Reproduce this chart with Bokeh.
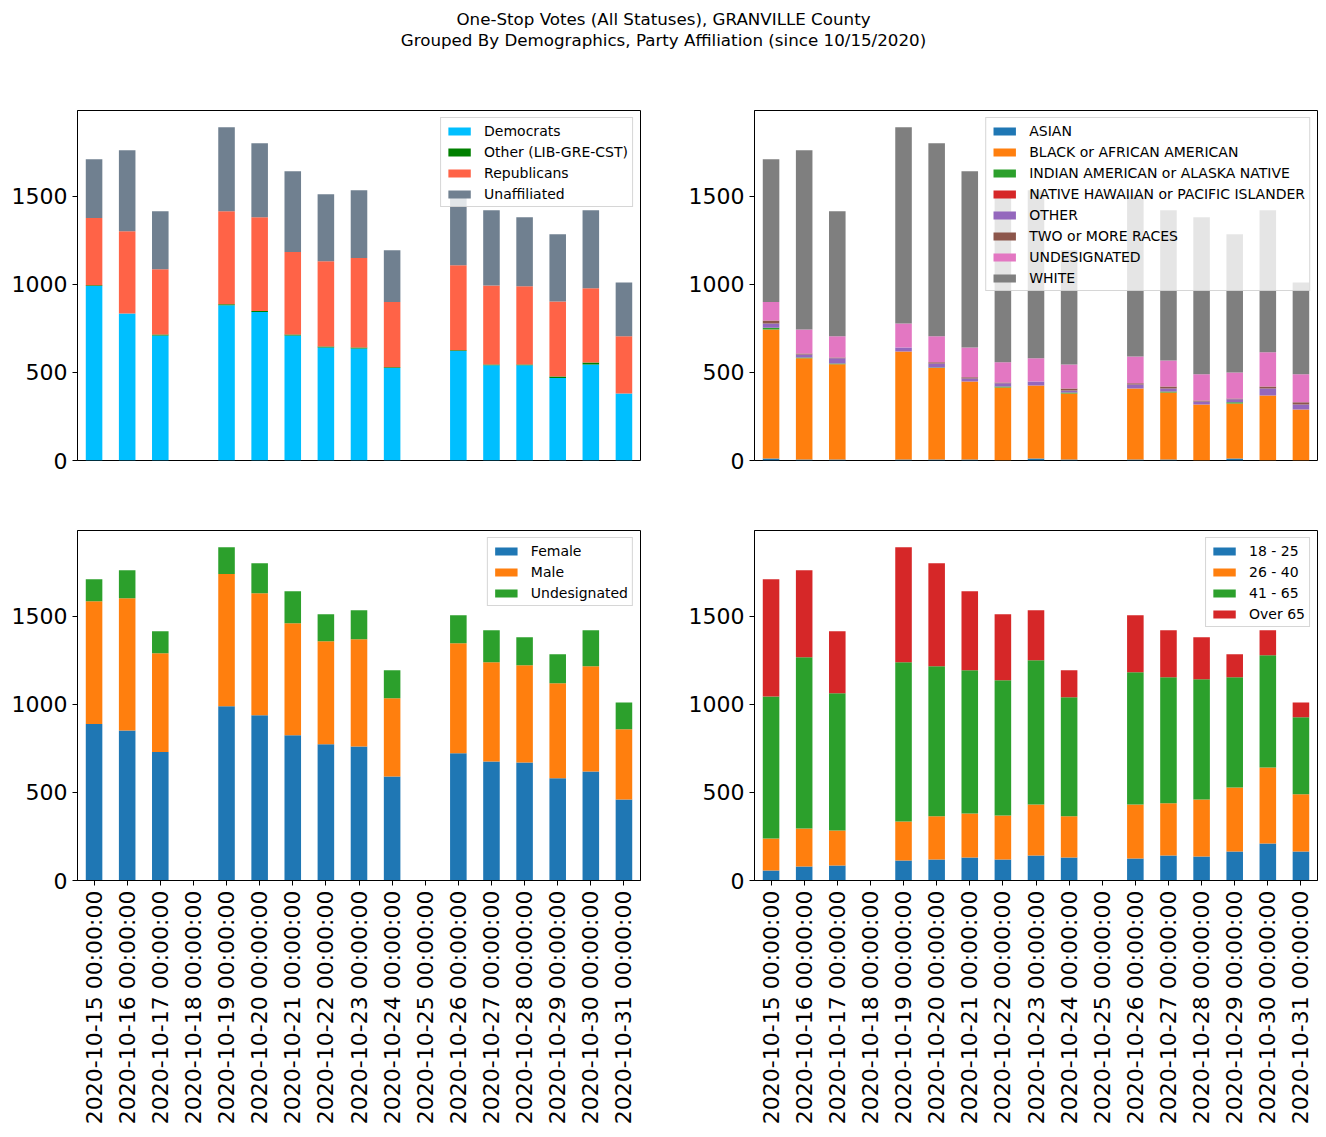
import math
from bokeh.plotting import figure
from bokeh.layouts import column, row
from bokeh.models import FactorRange, Range1d, FixedTicker, ColumnDataSource
from bokeh.embed import file_html
from bokeh.resources import INLINE
from bokeh.core.properties import value

# ---------------- data ----------------
title_lines = ["One-Stop Votes (All Statuses), GRANVILLE County",
               "Grouped By Demographics, Party Affiliation (since 10/15/2020)"]

dates = ["2020-10-15", "2020-10-16", "2020-10-17", "2020-10-18", "2020-10-19",
         "2020-10-20", "2020-10-21", "2020-10-22", "2020-10-23", "2020-10-24",
         "2020-10-25", "2020-10-26", "2020-10-27", "2020-10-28", "2020-10-29",
         "2020-10-30", "2020-10-31"]
tick_labels = [d + " 00:00:00" for d in dates]

party_names = ["Democrats", "Other (LIB-GRE-CST)", "Republicans", "Unaffiliated"]
party_colors = ["#00bfff", "#008000", "#ff6347", "#708090"]
democrats = [990, 835, 710, 0, 881, 843, 710, 642, 636, 525, 0, 621, 540, 540, 468, 545, 381]
other_party = [5, 0, 5, 0, 6, 5, 5, 5, 5, 4, 0, 5, 5, 5, 9, 11, 0]
republicans = [382, 466, 370, 0, 528, 533, 469, 484, 509, 371, 0, 482, 449, 444, 426, 421, 324]
unaffiliated = [333, 460, 330, 0, 477, 420, 458, 380, 384, 293, 0, 398, 426, 392, 381, 443, 306]

race_names = ["ASIAN", "BLACK or AFRICAN AMERICAN", "INDIAN AMERICAN or ALASKA NATIVE",
              "NATIVE HAWAIIAN or PACIFIC ISLANDER", "OTHER", "TWO or MORE RACES",
              "UNDESIGNATED", "WHITE"]
race_colors = ["#1f77b4", "#ff7f0e", "#2ca02c", "#d62728", "#9467bd", "#8c564b", "#e377c2", "#7f7f7f"]
asian = [11, 6, 6, 0, 6, 6, 6, 0, 11, 6, 0, 6, 6, 0, 11, 0, 0]
black = [733, 575, 541, 0, 613, 519, 443, 415, 415, 375, 0, 403, 380, 318, 313, 369, 290]
indian = [10, 4, 4, 0, 0, 3, 0, 5, 0, 5, 0, 0, 6, 0, 6, 0, 0]
hawaiian = [0, 0, 0, 0, 0, 0, 0, 0, 0, 0, 0, 0, 0, 0, 0, 0, 0]
other_race = [24, 17, 29, 0, 23, 23, 17, 18, 23, 12, 0, 23, 17, 17, 17, 40, 28]
two_more = [17, 6, 5, 0, 0, 6, 6, 5, 0, 11, 0, 6, 11, 6, 5, 11, 12]
undes_race = [105, 136, 120, 0, 136, 148, 170, 114, 131, 136, 0, 153, 148, 148, 148, 194, 159]
white = [810, 1017, 710, 0, 1114, 1096, 1000, 954, 954, 648, 0, 915, 852, 892, 784, 806, 522]

gender_names = ["Female", "Male", "Undesignated"]
gender_colors = ["#1f77b4", "#ff7f0e", "#2ca02c"]
female = [888, 852, 729, 0, 989, 938, 824, 773, 761, 591, 0, 722, 676, 670, 580, 619, 460]
male = [697, 750, 561, 0, 750, 693, 636, 585, 608, 443, 0, 625, 563, 552, 539, 597, 398]
undes_gender = [125, 159, 125, 0, 153, 170, 182, 153, 165, 159, 0, 159, 181, 159, 165, 204, 153]

age_names = ["18 - 25", "26 - 40", "41 - 65", "Over 65"]
age_colors = ["#1f77b4", "#ff7f0e", "#2ca02c", "#d62728"]
age_18_25 = [57, 80, 85, 0, 114, 119, 131, 119, 142, 131, 0, 125, 142, 136, 165, 210, 165]
age_26_40 = [182, 215, 199, 0, 221, 245, 250, 250, 290, 233, 0, 307, 296, 324, 363, 432, 324]
age_41_65 = [806, 972, 779, 0, 904, 852, 812, 767, 818, 676, 0, 750, 715, 682, 625, 636, 437]
age_over_65 = [665, 494, 352, 0, 653, 585, 449, 375, 284, 153, 0, 324, 267, 239, 131, 142, 85]

y_ticks = [0, 500, 1000, 1500]

FONT = "DejaVu Sans"
totals = [sum(v) for v in zip(democrats, other_party, republicans, unaffiliated)]
y_max = max(totals) * 1.05


def panel(names, colors, series, show_x, mb_left, mb_right, mb_top, mb_bottom):
    data = {"date": tick_labels}
    for n, s in zip(names, series):
        data[n] = s
    src = ColumnDataSource(data)
    p = figure(x_range=FactorRange(factors=tick_labels, range_padding=0),
               y_range=Range1d(0, y_max),
               frame_width=563, frame_height=350,
               min_border_left=mb_left, min_border_right=mb_right,
               min_border_top=mb_top, min_border_bottom=mb_bottom,
               output_backend="svg", toolbar_location=None)
    p.vbar_stack(names, x="date", width=0.5, fill_color=colors, line_color=colors,
                 line_alpha=0, source=src, legend_label=names)
    p.xgrid.visible = False
    p.ygrid.visible = False
    p.outline_line_color = "black"
    p.outline_line_alpha = 1
    p.outline_line_width = 1
    ya = p.yaxis[0]
    ya.ticker = FixedTicker(ticks=y_ticks)
    ya.minor_tick_line_color = None
    ya.major_tick_in = 0
    ya.major_tick_out = 5
    ya.major_tick_line_color = "black"
    ya.axis_line_color = "black"
    ya.major_label_text_font = FONT
    ya.major_label_text_font_size = "22px"
    ya.major_label_text_color = "black"
    ya.major_label_standoff = 5
    xa = p.xaxis[0]
    if show_x:
        xa.major_label_orientation = math.pi / 2
        xa.major_tick_in = 0
        xa.major_tick_out = 5
        xa.major_tick_line_color = "black"
        xa.axis_line_color = "black"
        xa.major_label_text_font = FONT
        xa.major_label_text_font_size = "22px"
        xa.major_label_text_color = "black"
        xa.major_label_standoff = 5
    else:
        xa.visible = False
    lg = p.legend[0]
    lg.location = "top_right"
    lg.margin = 7
    lg.padding = 4
    lg.spacing = 4
    lg.label_height = 17
    lg.glyph_height = 10
    lg.glyph_width = 28
    lg.label_standoff = 11
    lg.label_text_font = FONT
    lg.label_text_font_size = "14px"
    lg.label_text_color = "black"
    lg.border_line_color = "#cccccc"
    lg.border_line_alpha = 0.8
    lg.background_fill_alpha = 0.8
    return p


p_party = panel(party_names, party_colors, [democrats, other_party, republicans, unaffiliated],
                False, 77, 44, 42, 30)
p_race = panel(race_names, race_colors,
               [asian, black, indian, hawaiian, other_race, two_more, undes_race, white],
               False, 70, 9, 42, 30)
p_gender = panel(gender_names, gender_colors, [female, male, undes_gender],
                 True, 77, 44, 40, 248)
p_age = panel(age_names, age_colors, [age_18_25, age_26_40, age_41_65, age_over_65],
              True, 70, 9, 40, 248)

t = figure(width=1326, height=68, x_range=Range1d(0, 1326), y_range=Range1d(0, 68),
           x_axis_type=None, y_axis_type=None, min_border=0,
           output_backend="svg", toolbar_location=None)
t.outline_line_color = None
t.xgrid.visible = False
t.ygrid.visible = False
t.text(x=[663, 663], y=[50, 29], text=title_lines, text_align="center",
       text_baseline="middle", text_font=value(FONT), text_font_size="16.7px",
       text_color="black")

layout = column(t, row(p_party, p_race, spacing=0), row(p_gender, p_age, spacing=0), spacing=0)

open("out.html", "w").write(file_html(layout, INLINE))
